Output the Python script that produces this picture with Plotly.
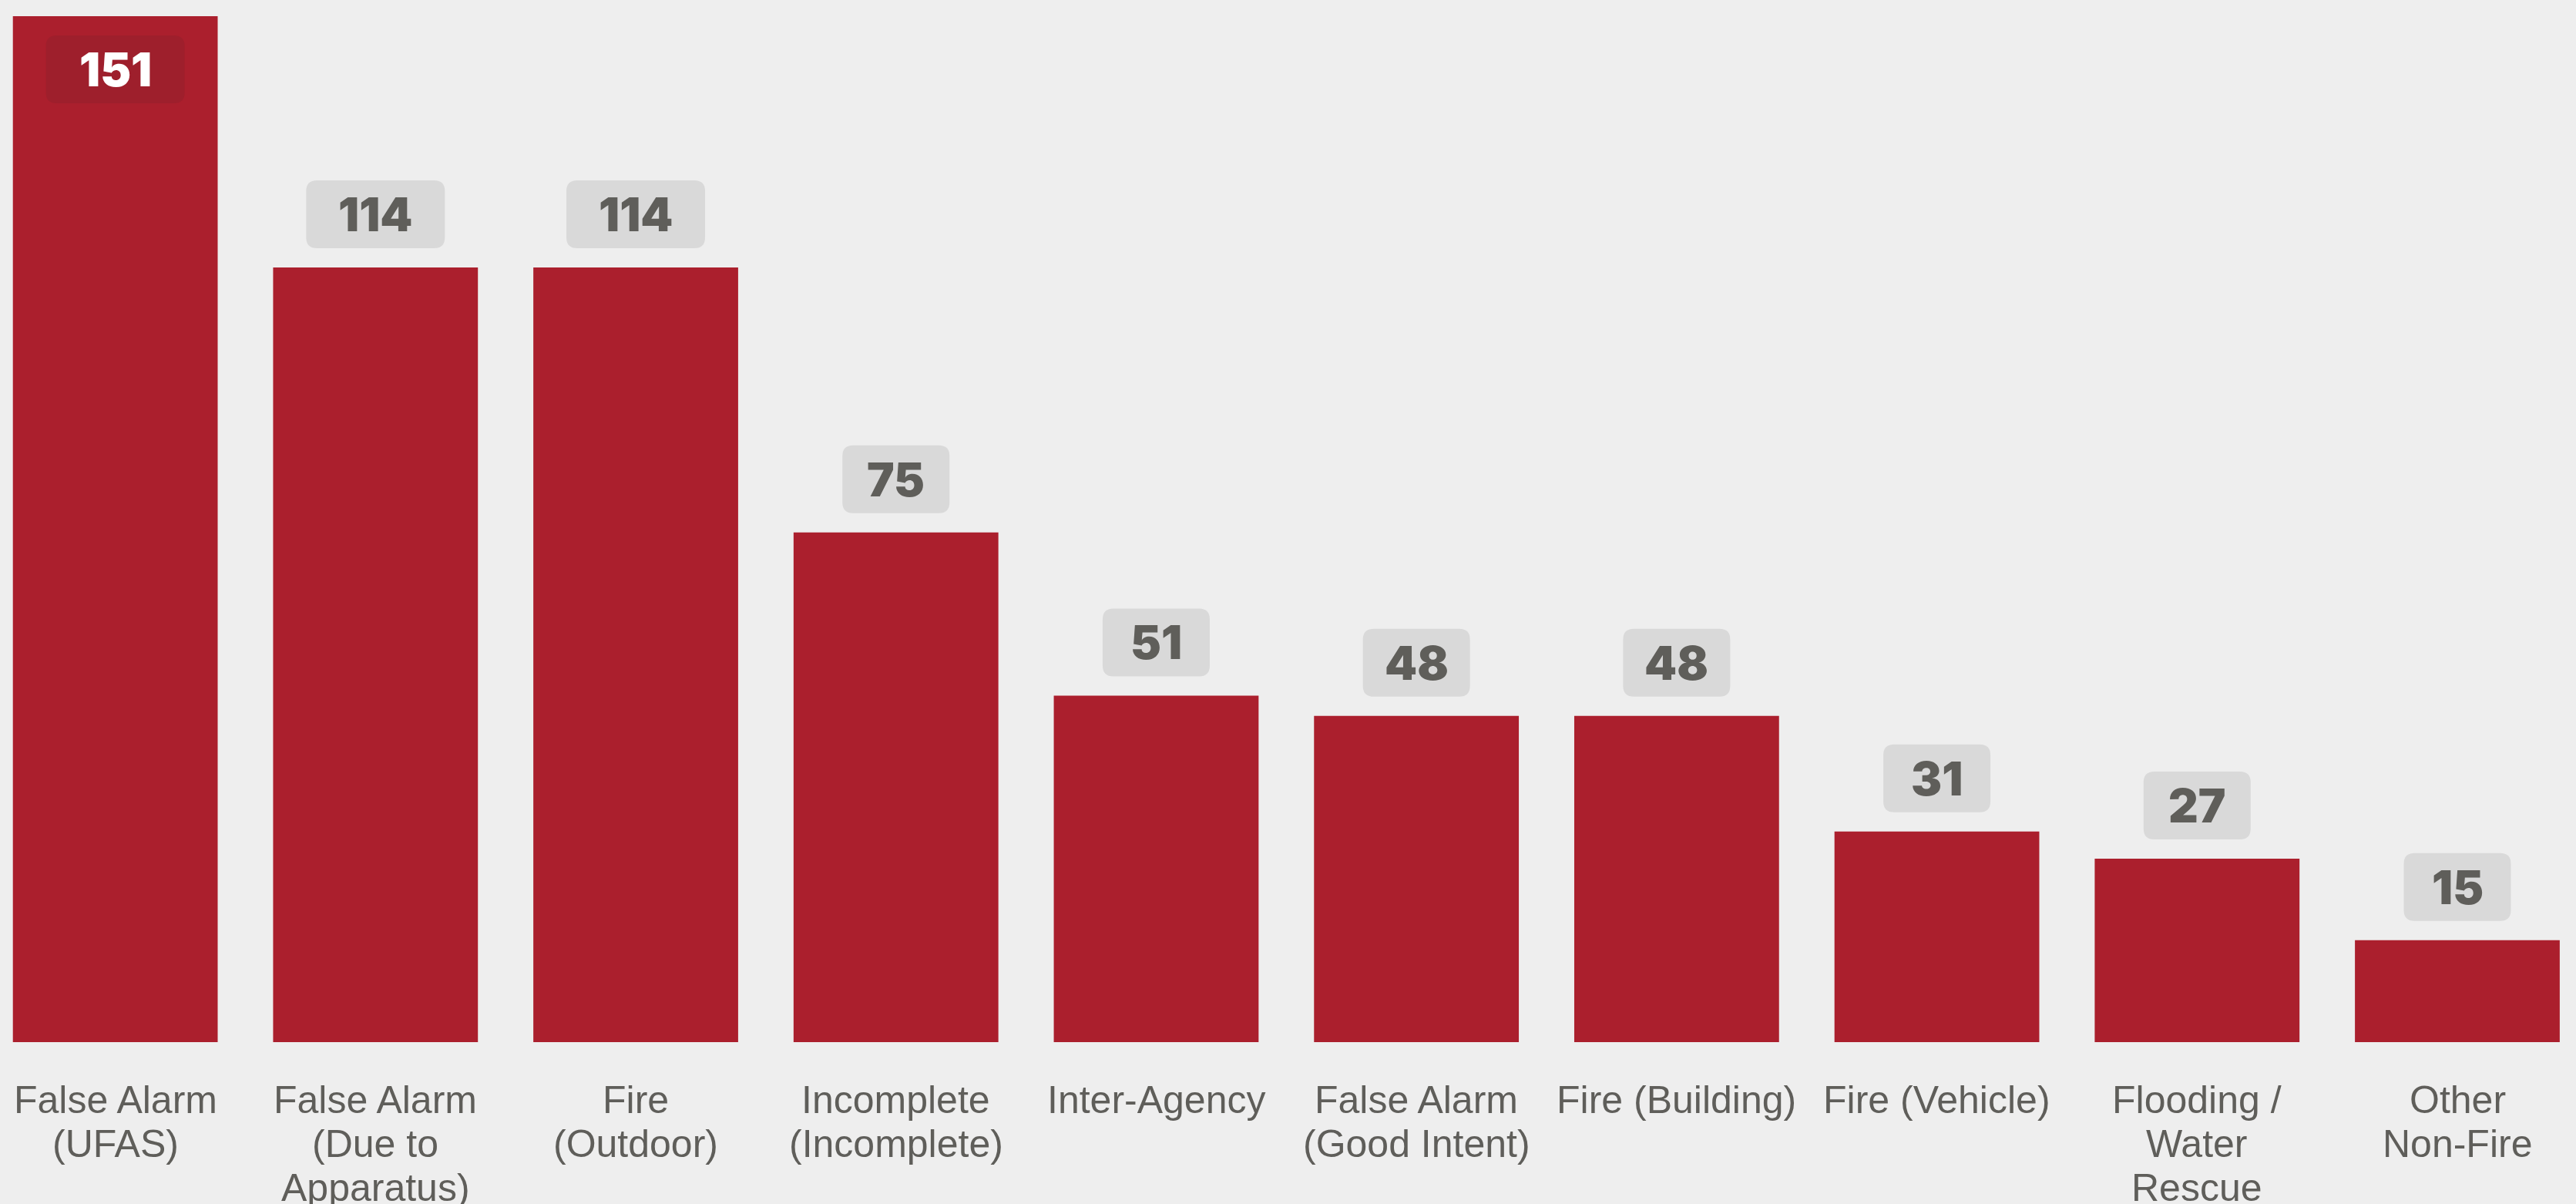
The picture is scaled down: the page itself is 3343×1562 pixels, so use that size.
import plotly.graph_objects as go

# ---- data ----
categories = [
    "False Alarm<br>(UFAS)",
    "False Alarm<br>(Due to<br>Apparatus)",
    "Fire<br>(Outdoor)",
    "Incomplete<br>(Incomplete)",
    "Inter-Agency",
    "False Alarm<br>(Good Intent)",
    "Fire (Building)",
    "Fire (Vehicle)",
    "Flooding /<br>Water<br>Rescue",
    "Other<br>Non-Fire",
]
counts = [151, 114, 114, 75, 51, 48, 48, 31, 27, 15]

# ---- style ----
BAR = "#ab1f2d"
BG = "#eeeeee"
BOX_OUT = "#d9d9d9"
BOX_IN = "#9e1f2c"
TXT = "#5f5e5a"
FONT = "Liberation Sans, Arial, sans-serif"
VFONT = "Inter, Liberation Sans, Arial, sans-serif"

W, H = 3343, 1562
MB = 210
YMAX = 153.37
XR = [-0.443, 9.456]

x_idx = list(range(len(categories)))

fig = go.Figure(
    go.Bar(
        x=x_idx,
        y=counts,
        width=0.787,
        marker=dict(color=BAR, line=dict(width=0)),
        hoverinfo="skip",
    )
)

px_per_unit = (H - MB) / YMAX
shapes = []
annotations = []
for i, v in enumerate(counts):
    txt = str(v)
    w = 57 + 41 * len(txt)
    h = 88
    gap = 25
    r = 14
    inside = v + (gap + h) / px_per_unit > YMAX
    if inside:
        y0, y1 = -(gap + h), -gap
        fill, tcol = BOX_IN, "white"
    else:
        y0, y1 = gap, gap + h
        fill, tcol = BOX_OUT, TXT
    x0, x1 = -w / 2, w / 2
    path = (
        f"M {x0 + r},{y0} L {x1 - r},{y0} Q {x1},{y0} {x1},{y0 + r} "
        f"L {x1},{y1 - r} Q {x1},{y1} {x1 - r},{y1} "
        f"L {x0 + r},{y1} Q {x0},{y1} {x0},{y1 - r} "
        f"L {x0},{y0 + r} Q {x0},{y0} {x0 + r},{y0} Z"
    )
    shapes.append(
        dict(
            type="path",
            xref="x",
            yref="y",
            xsizemode="pixel",
            ysizemode="pixel",
            xanchor=i,
            yanchor=v,
            path=path,
            fillcolor=fill,
            line=dict(width=0),
            layer="above",
        )
    )
    annotations.append(
        dict(
            x=i,
            y=v,
            xref="x",
            yref="y",
            text=txt,
            showarrow=False,
            xanchor="center",
            yanchor="middle",
            yshift=(y0 + y1) / 2,
            font=dict(family=VFONT, size=60, color=tcol, weight=900),
        )
    )

# category labels, one line per annotation
for i, cat in enumerate(categories):
    for j, line in enumerate(cat.split("<br>")):
        annotations.append(
            dict(
                x=i,
                y=0,
                xref="x",
                yref="y",
                text=line,
                showarrow=False,
                xanchor="center",
                yanchor="top",
                yshift=-(44.5 + 57 * j),
                font=dict(family=FONT, size=50, color=TXT),
            )
        )

fig.update_layout(
    width=W,
    height=H,
    margin=dict(l=0, r=0, t=0, b=MB, pad=0),
    paper_bgcolor=BG,
    plot_bgcolor=BG,
    showlegend=False,
    bargap=0.21,
    shapes=shapes,
    annotations=annotations,
    xaxis=dict(
        range=XR,
        showgrid=False,
        zeroline=False,
        showline=False,
        showticklabels=False,
        ticks="",
        fixedrange=True,
    ),
    yaxis=dict(
        range=[0, YMAX],
        visible=False,
        showgrid=False,
        zeroline=False,
        fixedrange=True,
    ),
)

fig.write_html(
    "out.html",
    config={"displayModeBar": False},
    post_script="document.body.style.margin='0';document.body.style.overflow='hidden';",
)
